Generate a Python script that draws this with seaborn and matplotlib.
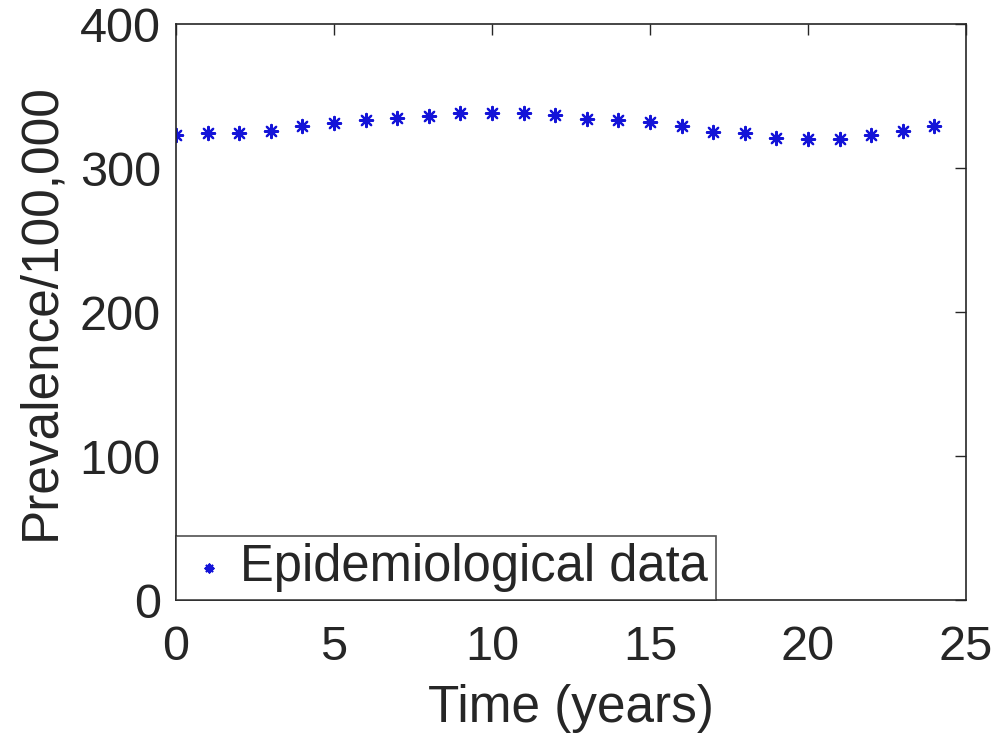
import matplotlib
matplotlib.use("Agg")
import matplotlib.pyplot as plt
import seaborn as sns
import pandas as pd

# prevalence per 100,000
years = list(range(25))
prevalence = [323, 324, 324, 326, 329, 331, 333, 335, 336, 338, 338, 338, 337,
              334, 333, 332, 329, 325, 324, 321, 320, 320, 323, 326, 329]

data = pd.DataFrame({"Time": years, "Prevalence": prevalence})

sns.set_style("white")
plt.rcParams["font.family"] = ["Liberation Sans", "DejaVu Sans"]

fig = plt.figure(figsize=(10, 7.36), dpi=100)
ax = fig.add_axes([0.176, 1 - 600 / 736, 0.79, 576 / 736])

sns.scatterplot(data=data, x="Time", y="Prevalence", ax=ax, marker=(8, 2, 0),
                color="#1414d8", s=90, linewidth=1.6, edgecolor="#1414d8",
                label="Epidemiological data")

ax.set_xlim(0, 25)
ax.set_ylim(0, 400)
ax.set_xticks([0, 5, 10, 15, 20, 25])
ax.set_yticks([0, 100, 200, 300, 400])
ax.tick_params(direction="in", length=8, width=1, labelsize=35, colors="#262626",
               top=True, right=True)
ax.tick_params(axis="x", pad=18)
ax.tick_params(axis="y", pad=11)
for s in ax.spines.values():
    s.set_color("#262626")
    s.set_linewidth(1.2)
ax.set_xlabel("Time (years)", fontsize=37, color="#262626", labelpad=10)
ax.set_ylabel("Prevalence/100,000", fontsize=37, color="#262626", labelpad=10)

leg = ax.legend(loc="lower left", fontsize=36.5, frameon=True, fancybox=False,
                borderaxespad=0, handletextpad=0.12, markerscale=0.6,
                borderpad=0.15, handlelength=1.0)
leg.get_frame().set_edgecolor("#262626")
leg.get_frame().set_linewidth(1.2)

fig.savefig("out.png", dpi=100)
